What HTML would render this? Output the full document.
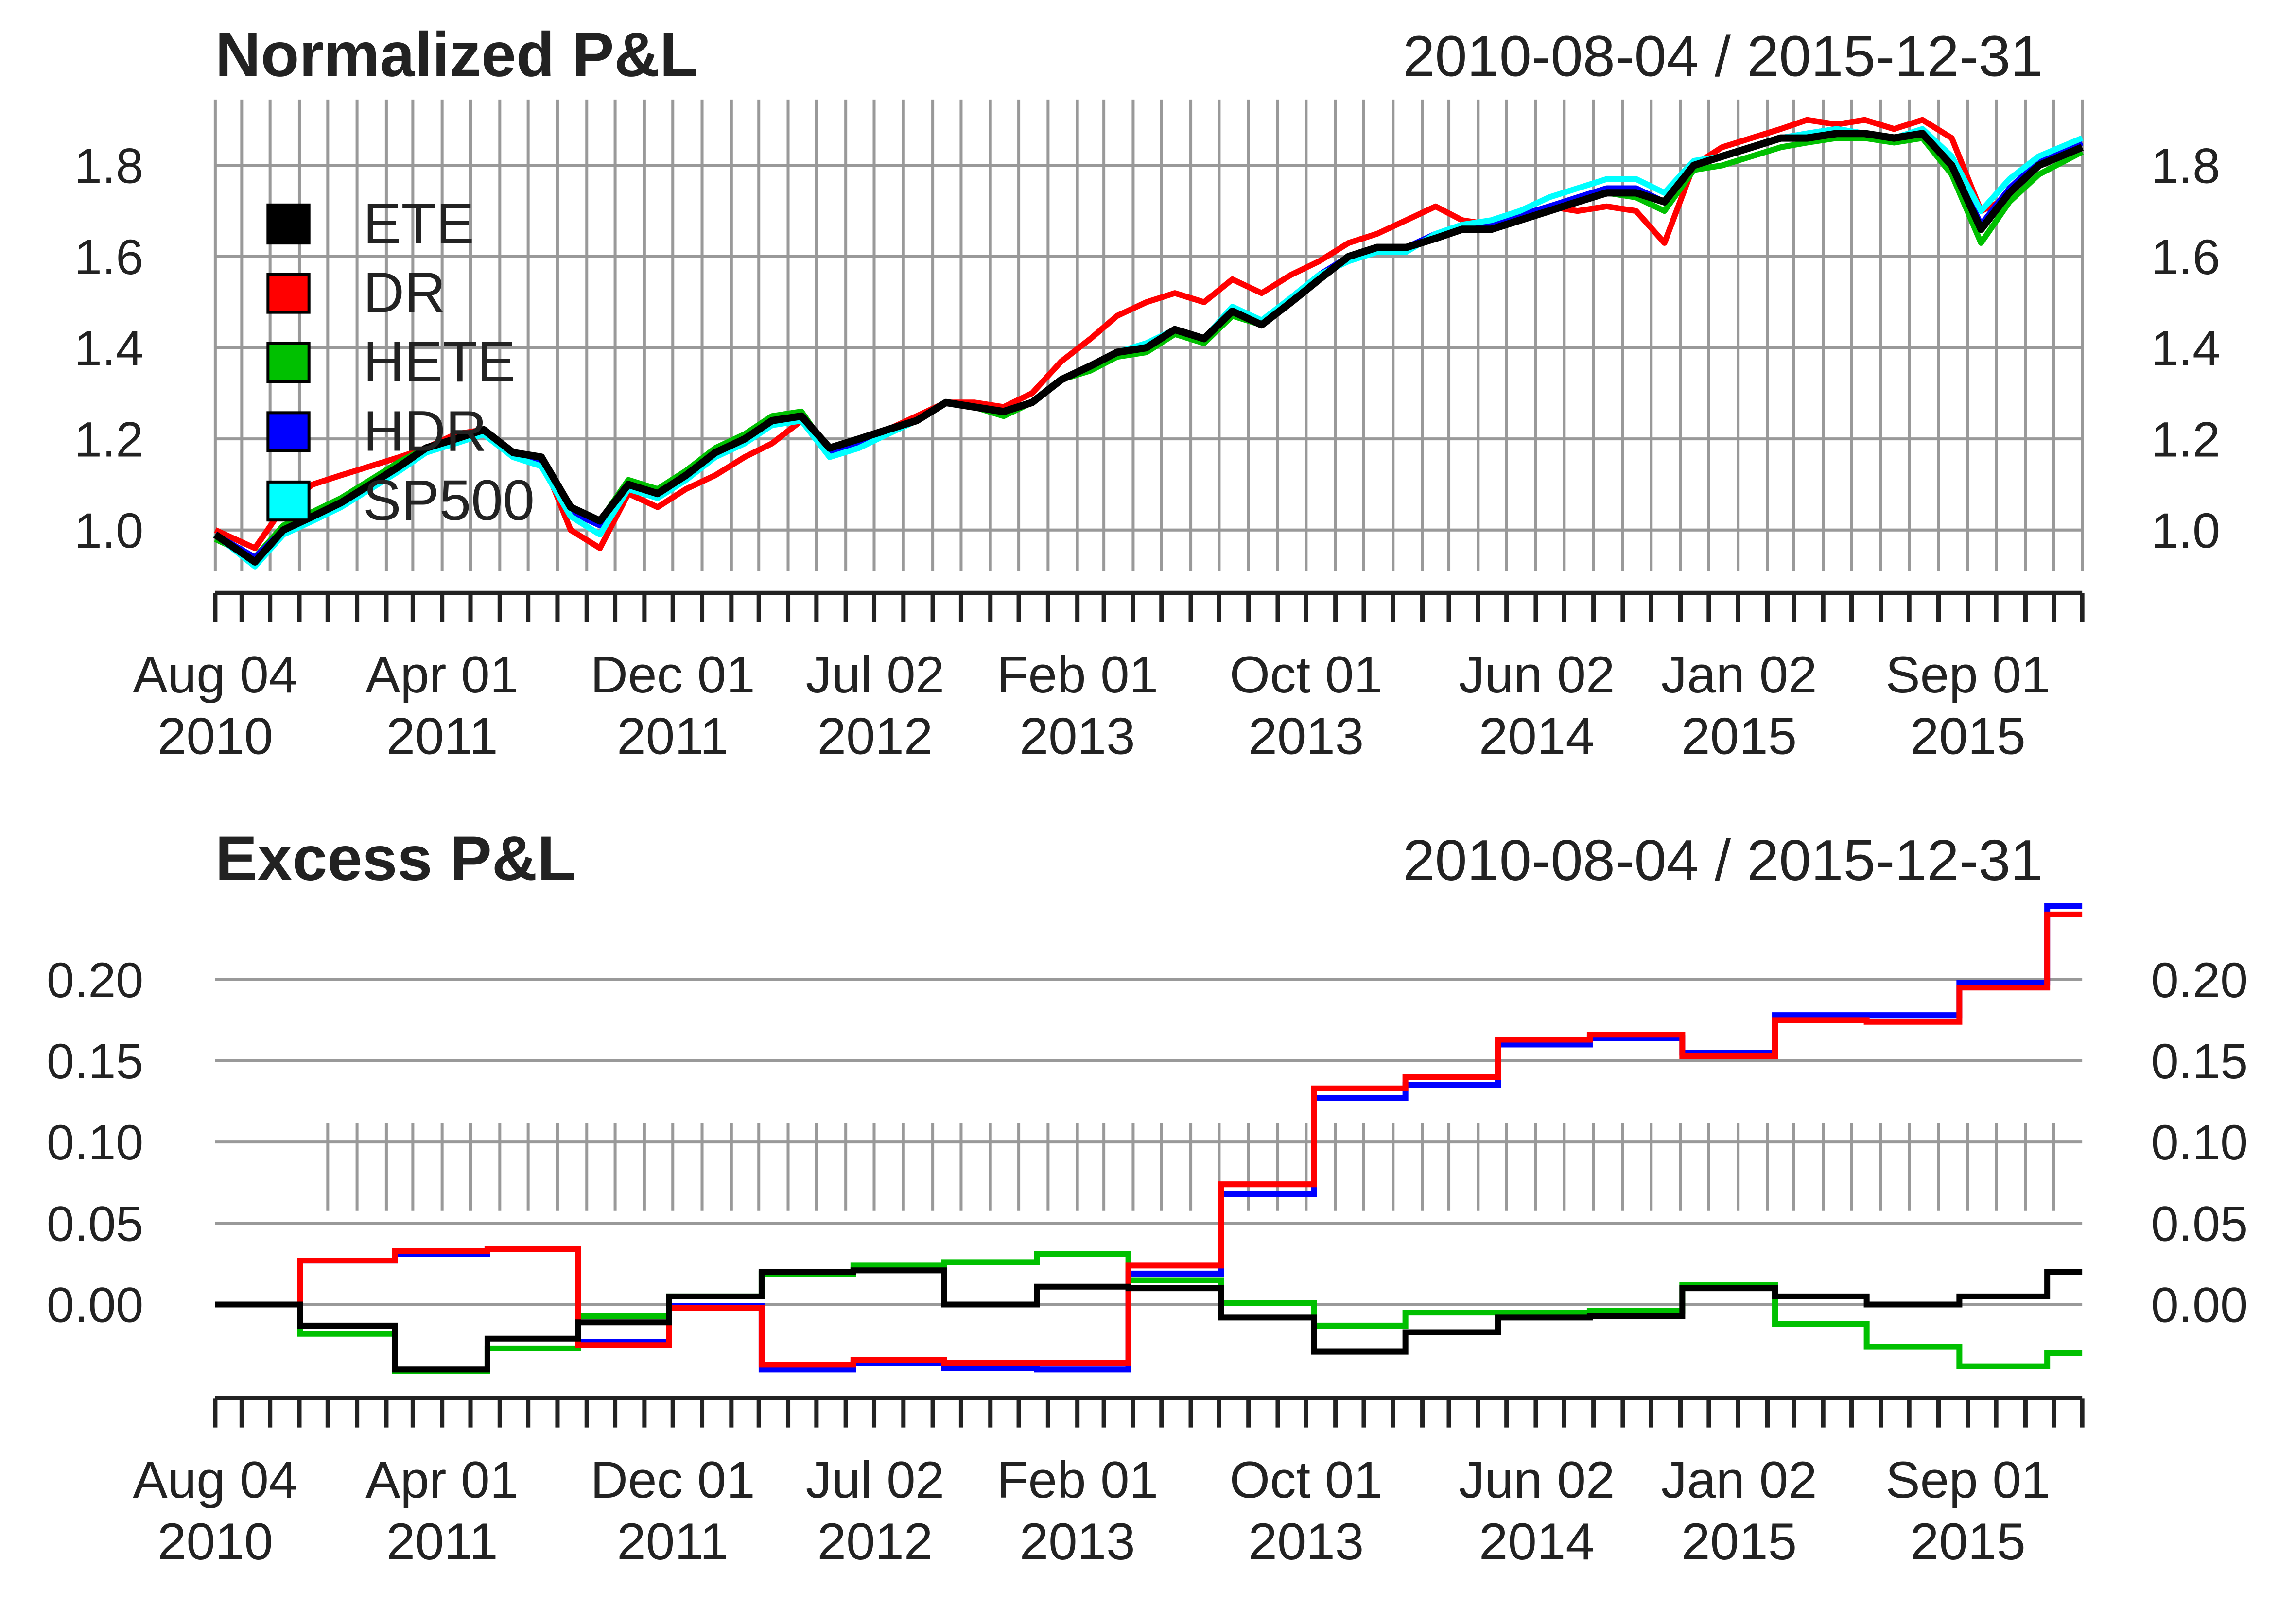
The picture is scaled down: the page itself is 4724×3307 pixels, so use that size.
<!DOCTYPE html>
<html><head><meta charset="utf-8"><style>
html,body{margin:0;padding:0;background:#fff;}
svg{display:block;}
text{font-family:"Liberation Sans",sans-serif;fill:#222;}
</style></head><body>
<svg id="c" width="4724" height="3307" viewBox="0 0 1568 1097.6" preserveAspectRatio="none" xmlns="http://www.w3.org/2000/svg"></svg>
<script>
// ---------- data ----------
const monthLabels = ["2010-08","2010-09","2010-10","2010-11","2010-12","2011-01","2011-02","2011-03","2011-04","2011-05","2011-06","2011-07","2011-08","2011-09","2011-10","2011-11","2011-12","2012-01","2012-02","2012-03","2012-04","2012-05","2012-06","2012-07","2012-08","2012-09","2012-10","2012-11","2012-12","2013-01","2013-02","2013-03","2013-04","2013-05","2013-06","2013-07","2013-08","2013-09","2013-10","2013-11","2013-12","2014-01","2014-02","2014-03","2014-04","2014-05","2014-06","2014-07","2014-08","2014-09","2014-10","2014-11","2014-12","2015-01","2015-02","2015-03","2015-04","2015-05","2015-06","2015-07","2015-08","2015-09","2015-10","2015-11","2015-12"];
const ete   = [0.99,0.93,1.00,1.03,1.06,1.10,1.14,1.18,1.20,1.22,1.17,1.16,1.05,1.02,1.10,1.08,1.12,1.17,1.20,1.24,1.25,1.18,1.20,1.22,1.24,1.28,1.27,1.26,1.28,1.33,1.36,1.39,1.40,1.44,1.42,1.48,1.45,1.50,1.55,1.60,1.62,1.62,1.64,1.66,1.66,1.68,1.70,1.72,1.74,1.74,1.72,1.80,1.82,1.84,1.86,1.86,1.87,1.87,1.86,1.87,1.80,1.66,1.74,1.80,1.84];
const dr    = [1.00,0.96,1.05,1.10,1.12,1.14,1.16,1.18,1.21,1.22,1.17,1.16,1.00,0.96,1.08,1.05,1.09,1.12,1.16,1.19,1.24,1.17,1.20,1.22,1.25,1.28,1.28,1.27,1.30,1.37,1.42,1.47,1.50,1.52,1.50,1.55,1.52,1.56,1.59,1.63,1.65,1.68,1.71,1.68,1.67,1.69,1.71,1.70,1.71,1.70,1.63,1.80,1.84,1.86,1.88,1.90,1.89,1.90,1.88,1.90,1.86,1.70,1.73,1.82,1.85];
const hete  = [0.98,0.94,1.01,1.04,1.07,1.11,1.15,1.18,1.20,1.22,1.17,1.15,1.04,1.02,1.11,1.09,1.13,1.18,1.21,1.25,1.26,1.17,1.19,1.21,1.24,1.28,1.27,1.25,1.28,1.33,1.35,1.38,1.39,1.43,1.41,1.47,1.45,1.50,1.55,1.60,1.62,1.62,1.64,1.66,1.66,1.68,1.70,1.72,1.74,1.73,1.70,1.79,1.80,1.82,1.84,1.85,1.86,1.86,1.85,1.86,1.78,1.63,1.72,1.78,1.83];
const hdr   = [0.99,0.94,1.00,1.03,1.06,1.10,1.14,1.18,1.20,1.22,1.17,1.15,1.04,1.01,1.10,1.08,1.12,1.17,1.20,1.24,1.25,1.17,1.19,1.22,1.24,1.28,1.27,1.26,1.28,1.33,1.36,1.39,1.40,1.44,1.42,1.48,1.45,1.51,1.56,1.60,1.62,1.62,1.65,1.66,1.67,1.69,1.71,1.73,1.75,1.75,1.72,1.80,1.82,1.84,1.86,1.87,1.88,1.87,1.86,1.87,1.81,1.67,1.75,1.81,1.85];
const sp500 = [0.99,0.92,0.99,1.02,1.05,1.09,1.13,1.17,1.19,1.21,1.16,1.14,1.03,0.99,1.09,1.07,1.11,1.16,1.19,1.23,1.24,1.16,1.18,1.21,1.24,1.28,1.27,1.26,1.28,1.33,1.36,1.39,1.41,1.44,1.42,1.49,1.46,1.51,1.56,1.59,1.61,1.61,1.65,1.67,1.68,1.70,1.73,1.75,1.77,1.77,1.74,1.81,1.82,1.84,1.86,1.87,1.88,1.87,1.86,1.88,1.82,1.70,1.77,1.82,1.86];
// excess steps
const stepStarts = ["2010-08-04","2010-11-02","2011-02-10","2011-05-19","2011-08-23","2011-11-27","2012-03-04","2012-06-09","2012-09-13","2012-12-20","2013-03-27","2013-07-03","2013-10-09","2014-01-14","2014-04-22","2014-07-28","2014-11-03","2015-02-09","2015-05-17","2015-08-23","2015-11-24"];
const exDR   = [0,0.027,0.033,0.034,-0.025,-0.002,-0.037,-0.034,-0.036,-0.036,0.024,0.074,0.133,0.140,0.163,0.166,0.153,0.175,0.174,0.195,0.240];
const exHDR  = [0,0.027,0.031,0.034,-0.023,-0.001,-0.040,-0.036,-0.039,-0.040,0.019,0.068,0.127,0.135,0.160,0.164,0.155,0.178,0.178,0.198,0.245];
const exHETE = [0,-0.018,-0.041,-0.027,-0.007,0.005,0.019,0.024,0.026,0.031,0.015,0.001,-0.013,-0.005,-0.005,-0.004,0.012,-0.012,-0.026,-0.038,-0.030];
const exETE  = [0,-0.013,-0.040,-0.021,-0.011,0.005,0.020,0.021,0.000,0.011,0.010,-0.008,-0.029,-0.017,-0.008,-0.007,0.010,0.005,0.000,0.005,0.020];
const topTicks = [1.0,1.2,1.4,1.6,1.8];
const botTicks = [0.00,0.05,0.10,0.15,0.20];
const xLabelDates = ["2010-08-04","2011-04-01","2011-12-01","2012-07-02","2013-02-01","2013-10-01","2014-06-02","2015-01-02","2015-09-01"];
const xLabelTop = ["Aug 04","Apr 01","Dec 01","Jul 02","Feb 01","Oct 01","Jun 02","Jan 02","Sep 01"];
const xLabelBot = ["2010","2011","2011","2012","2013","2013","2014","2015","2015"];

// ---------- helpers ----------
const NS="http://www.w3.org/2000/svg", svg=document.getElementById('c');
function mk(tag,at,txt){const e=document.createElementNS(NS,tag);for(const k in at)e.setAttribute(k,at[k]);if(txt!==undefined)e.textContent=txt;svg.appendChild(e);return e;}
const T0=Date.parse("2010-08-04"),T1=Date.parse("2015-12-31"),X0=147,X1=1422;
const xd=d=>X0+(Date.parse(d)-T0)/(T1-T0)*(X1-X0);
const yTop=v=>362-(v-1.0)/0.2*62.25;
const yBot=v=>891-v/0.05*55.5;
const months=[];for(let y=2010;y<=2015;y++)for(let m=1;m<=12;m++){const s=y+"-"+String(m).padStart(2,"0")+"-01";const t=Date.parse(s);if(t>T0&&t<=T1)months.push(s);}

// ---------- top panel ----------
for(const v of topTicks){
 let l=mk('line',{x1:X0,x2:X1,y1:yTop(v),y2:yTop(v),stroke:'#999','stroke-width':2});
 
 let t=mk('text',{x:98,y:yTop(v)+12,'font-size':34,'text-anchor':'end'},v.toFixed(1));
 
 t=mk('text',{x:1469,y:yTop(v)+12,'font-size':34},v.toFixed(1));
 
}
for(const m of [ "2010-08-04",...months,"2015-12-31"]){
 let l=mk('line',{x1:xd(m),x2:xd(m),y1:68,y2:390,stroke:'#999','stroke-width':2});
 
}
const topSeries=[[dr,'#ff0000','dr-line'],[hete,'#00c000','hete-line'],[hdr,'#0000ff','hdr-line'],[sp500,'#00ffff','sp500-line'],[ete,'#000','ete-line']];
for(const [arr,col,nm] of topSeries){
 const pts=arr.map((v,i)=>{const d=i===0?"2010-08-04":(i===arr.length-1?"2015-12-31":monthLabels[i]+"-15");return xd(d).toFixed(1)+","+yTop(v).toFixed(1);}).join(" ");
 const p=mk('polyline',{points:pts,fill:'none',stroke:col,'stroke-width':nm==='ete-line'?5:4,'stroke-linejoin':'round'});
 
}
function axis(y,pref){
 let l=mk('line',{x1:X0,x2:X1,y1:y,y2:y,stroke:'#222','stroke-width':3});
 
 for(const m of ["2010-08-04",...months,"2015-12-31"]){
  let t=mk('line',{x1:xd(m),x2:xd(m),y1:y,y2:y+20,stroke:'#222','stroke-width':3});
  
 }
 xLabelDates.forEach((d,i)=>{
  let a=mk('text',{x:xd(d),y:y+68,'font-size':35.5,'text-anchor':'middle'},xLabelTop[i]);
  
  let b=mk('text',{x:xd(d),y:y+110,'font-size':35.5,'text-anchor':'middle'},xLabelBot[i]);
  
 });
}
axis(405,'top');
let tt=mk('text',{x:147,y:52,'font-size':43,'font-weight':'bold'},"Normalized P&L");

tt=mk('text',{x:1395,y:52,'font-size':39.5,'text-anchor':'end'},"2010-08-04 / 2015-12-31");

const legend=[["ETE","#000"],["DR","#ff0000"],["HETE","#00c000"],["HDR","#0000ff"],["SP500","#00ffff"]];
legend.forEach(([n,c],i)=>{
 const cy=153+i*47.3;
 let r=mk('rect',{x:183,y:cy-13,width:28,height:26,fill:c,stroke:'#000','stroke-width':2});
 
 let t=mk('text',{x:248,y:cy+13,'font-size':39},n);
 
});

// ---------- bottom panel ----------
for(const v of botTicks){
 let l=mk('line',{x1:X0,x2:X1,y1:yBot(v),y2:yBot(v),stroke:'#999','stroke-width':2});
 
 let t=mk('text',{x:98,y:yBot(v)+12,'font-size':34,'text-anchor':'end'},v.toFixed(2));
 
 t=mk('text',{x:1469,y:yBot(v)+12,'font-size':34},v.toFixed(2));
 
}
for(const m of months){
 if(xd(m)<215)continue;
 let l=mk('line',{x1:xd(m),x2:xd(m),y1:767,y2:827,stroke:'#999','stroke-width':2});
 
}
const botSeries=[[exHETE,'#00c000','excess-hete-line'],[exHDR,'#0000ff','excess-hdr-line'],[exDR,'#ff0000','excess-dr-line'],[exETE,'#000','excess-ete-line']];
for(const [arr,col,nm] of botSeries){
 let pts=[];
 for(let i=0;i<arr.length;i++){
  const xs=xd(stepStarts[i]);
  const xe=i+1<stepStarts.length?xd(stepStarts[i+1]):X1;
  pts.push(xs.toFixed(1)+","+yBot(arr[i]).toFixed(1));
  pts.push(xe.toFixed(1)+","+yBot(arr[i]).toFixed(1));
 }
 const p=mk('polyline',{points:pts.join(" "),fill:'none',stroke:col,'stroke-width':4});
 
}
axis(955,'bottom');
tt=mk('text',{x:147,y:601,'font-size':43,'font-weight':'bold'},"Excess P&L");

tt=mk('text',{x:1395,y:601,'font-size':39.5,'text-anchor':'end'},"2010-08-04 / 2015-12-31");

</script>
</body></html>
